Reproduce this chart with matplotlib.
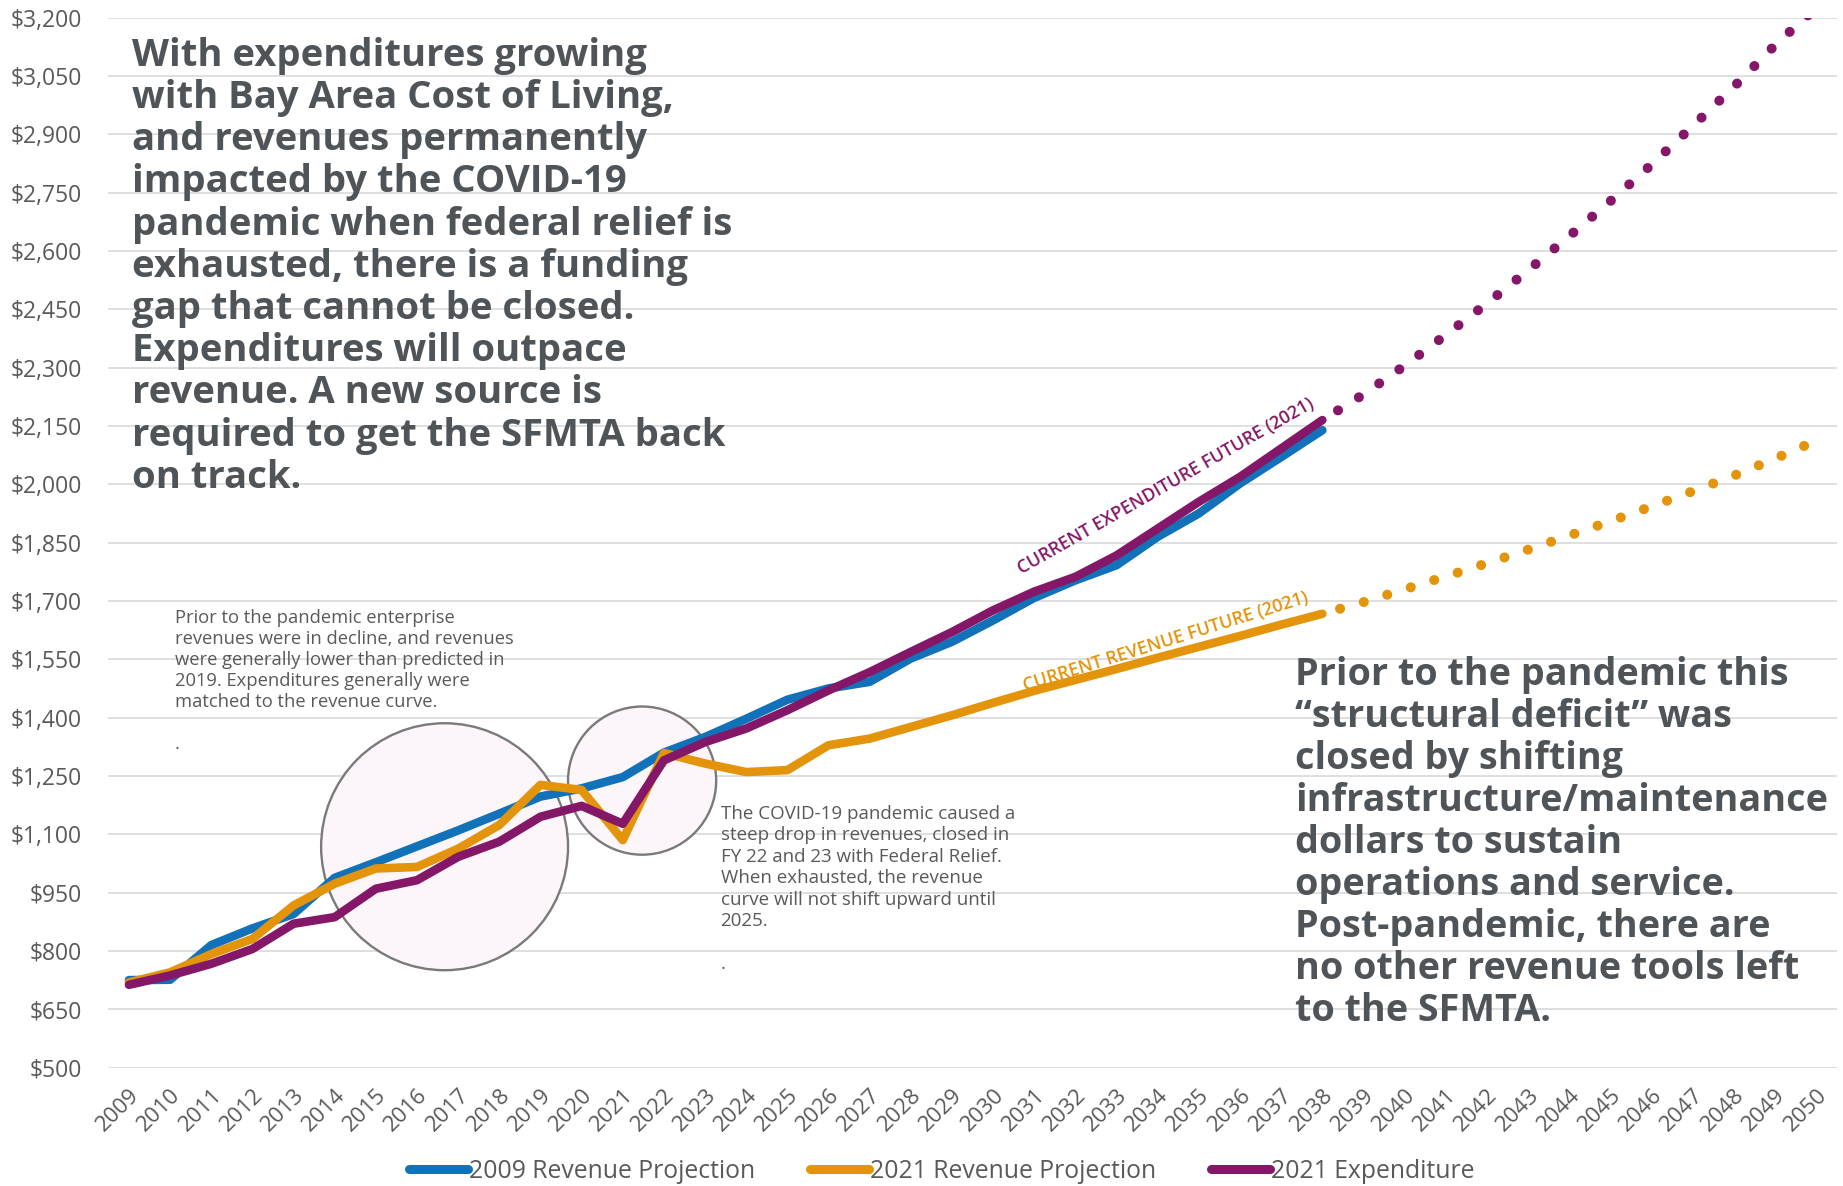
import matplotlib
matplotlib.use("Agg")
import matplotlib.pyplot as plt
from matplotlib.patches import Ellipse
from matplotlib.lines import Line2D

# data (millions $)
years = list(range(2009, 2051))
years_hist = list(range(2009, 2039))
years_future = list(range(2038, 2051))

rev_2009 = [725, 726, 815, 858, 895, 988, 1028, 1069, 1110, 1153, 1197, 1218,
            1247, 1310, 1350, 1397, 1446, 1475, 1492, 1552, 1595, 1650, 1708,
            1753, 1792, 1865, 1925, 2002, 2070, 2139]
rev_2021 = [719, 745, 792, 831, 917, 973, 1012, 1016, 1063, 1124, 1227, 1214,
            1085, 1309, 1282, 1260, 1265, 1329, 1346, 1376, 1406, 1438, 1469,
            1497, 1525, 1554, 1582, 1610, 1639, 1667]
exp_2021 = [713, 737, 767, 805, 870, 887, 960, 982, 1042, 1081, 1145, 1173,
            1127, 1290, 1337, 1372, 1419, 1470, 1517, 1569, 1620, 1676, 1724,
            1762, 1817, 1886, 1955, 2019, 2092, 2165]
rev_future = [1667, 1697, 1730, 1763, 1797, 1832, 1868, 1905, 1943, 1982,
              2022, 2066, 2112]
exp_future = [2165, 2231, 2305, 2384, 2465, 2550, 2638, 2728, 2822, 2921,
              3022, 3129, 3225]

yticks = list(range(500, 3201, 150))

BLUE = "#1172BA"
ORANGE = "#E3940A"
PURPLE = "#851768"
GREY = "#595959"
DARK = "#4F5459"

font = "Open Sans"

fig = plt.figure(figsize=(18.43, 11.86), dpi=100)
ax = fig.add_axes([0.0588, 0.0998, 0.9378, 0.8854])

lw = 6.2
ax.plot(years_hist, rev_2009, color=BLUE, lw=lw, solid_capstyle="round",
        solid_joinstyle="round", zorder=3)
ax.plot(years_hist, rev_2021, color=ORANGE, lw=lw, solid_capstyle="round",
        solid_joinstyle="round", zorder=4)
ax.plot(years_hist, exp_2021, color=PURPLE, lw=lw, solid_capstyle="round",
        solid_joinstyle="round", zorder=5)

dlw = 7.2
dots = (8.0, (0.01, 2.45))
ax.plot(years_future, rev_future, color=ORANGE, lw=dlw, linestyle=dots,
        dash_capstyle="round", zorder=4)
ax.plot(years_future, exp_future, color=PURPLE, lw=dlw, linestyle=dots,
        dash_capstyle="round", zorder=5)

# highlight circles
ax.add_patch(Ellipse((2016.67, 1068), 6.0, 635, facecolor="#FCF5FA",
                     edgecolor="#7A7A7A", lw=1.7, zorder=1))
ax.add_patch(Ellipse((2021.47, 1238), 3.6, 381, facecolor="#FCF5FA",
                     edgecolor="#7A7A7A", lw=1.7, zorder=1))

ax.set_xlim(2008.5, 2050.5)
ax.set_ylim(500, 3200)
ax.set_yticks(yticks)
ax.set_yticklabels([f"${v:,}" for v in yticks], family=font,
                   fontsize=16.5, color=GREY)
ax.set_xticks(years)
ax.set_xticklabels([str(y) for y in years], rotation=45, ha="right",
                   rotation_mode="anchor", family=font, fontsize=16,
                   color=GREY)
ax.tick_params(axis="both", length=0)
ax.tick_params(axis="y", pad=19)
ax.tick_params(axis="x", pad=12)
ax.grid(axis="y", color="#D9D9D9", lw=1.2, zorder=0)
ax.set_axisbelow(True)
for s in ax.spines.values():
    s.set_visible(False)

# line labels
ax.text(2034.2, 1995, "CURRENT EXPENDITURE FUTURE (2021)", color=PURPLE,
        rotation=29.7, ha="center", va="center", family=font,
        fontweight="semibold", fontsize=13)
ax.text(2034.2, 1595, "CURRENT REVENUE FUTURE (2021)", color=ORANGE,
        rotation=17.4, ha="center", va="center", family=font,
        fontweight="semibold", fontsize=13)

left_msg = ("With expenditures growing\n"
            "with Bay Area Cost of Living,\n"
            "and revenues permanently\n"
            "impacted by the COVID-19\n"
            "pandemic when federal relief is\n"
            "exhausted, there is a funding\n"
            "gap that cannot be closed.\n"
            "Expenditures will outpace\n"
            "revenue. A new source is\n"
            "required to get the SFMTA back\n"
            "on track.")
fig.text(0.0715, 0.969, left_msg, ha="left", va="top", family=font,
         fontweight="bold", fontsize=27.5, color=DARK, linespacing=1.145)

right_msg = ("Prior to the pandemic this\n"
             "\u201cstructural deficit\u201d was\n"
             "closed by shifting\n"
             "infrastructure/maintenance\n"
             "dollars to sustain\n"
             "operations and service.\n"
             "Post-pandemic, there are\n"
             "no other revenue tools left\n"
             "to the SFMTA.")
fig.text(0.7027, 0.447, right_msg, ha="left", va="top", family=font,
         fontweight="bold", fontsize=27.2, color=DARK, linespacing=1.14)

note1 = ("Prior to the pandemic enterprise\n"
         "revenues were in decline, and revenues\n"
         "were generally lower than predicted in\n"
         "2019. Expenditures generally were\n"
         "matched to the revenue curve.\n"
         "\n"
         ".")
fig.text(0.095, 0.4865, note1, ha="left", va="top", family=font,
         fontsize=13.2, color=GREY, linespacing=1.21)

note2 = ("The COVID-19 pandemic caused a\n"
         "steep drop in revenues, closed in\n"
         "FY 22 and 23 with Federal Relief.\n"
         "When exhausted, the revenue\n"
         "curve will not shift upward until\n"
         "2025.\n"
         "\n"
         ".")
fig.text(0.391, 0.3215, note2, ha="left", va="top", family=font,
         fontsize=13.5, color=GREY, linespacing=1.25)

handles = [Line2D([0], [0], color=BLUE, lw=6.5, solid_capstyle="round"),
           Line2D([0], [0], color=ORANGE, lw=6.5, solid_capstyle="round"),
           Line2D([0], [0], color=PURPLE, lw=6.5, solid_capstyle="round")]
leg = fig.legend(handles, ["2009 Revenue Projection", "2021 Revenue Projection",
                           "2021 Expenditure"],
                 loc="center", bbox_to_anchor=(0.511, 0.0125), ncol=3,
                 frameon=False, handlelength=2.4, handletextpad=0.05,
                 columnspacing=2.2, prop={"family": font, "size": 17.8})
for t in leg.get_texts():
    t.set_color(GREY)

fig.savefig("out.png", dpi=100)
